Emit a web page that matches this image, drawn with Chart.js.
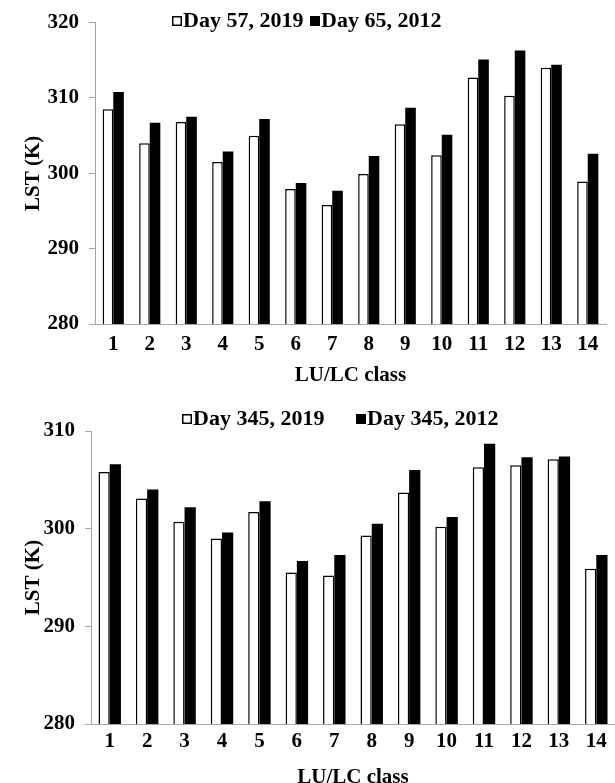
<!DOCTYPE html>
<html>
<head>
<meta charset="utf-8">
<script src="https://cdn.jsdelivr.net/npm/chart.js@4/dist/chart.umd.min.js"></script>
<style>
  html, body { margin: 0; padding: 0; background: #fff; }
  body { width: 615px; height: 783px; overflow: hidden; position: relative; }
  .panel { position: absolute; left: 0; width: 615px; }
  #panelTop { top: 0; height: 392px; }
  #panelBottom { top: 392px; height: 395px; }
</style>
</head>
<body>
<div class="panel" id="panelTop"><canvas id="chartTop"></canvas></div>
<div class="panel" id="panelBottom"><canvas id="chartBottom"></canvas></div>
<script>
// LU/LC classes on the x axis
const classes = ['1', '2', '3', '4', '5', '6', '7', '8', '9', '10', '11', '12', '13', '14'];

// Land surface temperature (K) per class
const lstDay57_2019  = [308.5, 304.0, 306.8, 301.5, 305.0, 297.9, 295.8, 299.9, 306.5, 302.4, 312.7, 310.3, 314.0, 298.9];
const lstDay65_2012  = [310.8, 306.7, 307.5, 302.9, 307.2, 298.7, 297.7, 302.3, 308.7, 305.1, 315.1, 316.3, 314.4, 302.6];
const lstDay345_2019 = [305.8, 303.1, 300.7, 299.0, 301.7, 295.5, 295.2, 299.3, 303.7, 300.2, 306.3, 306.5, 307.1, 295.9];
const lstDay345_2012 = [306.6, 304.0, 302.2, 299.6, 302.8, 296.7, 297.3, 300.5, 306.0, 301.2, 308.7, 307.3, 307.4, 297.3];

// Series names
const namesTop    = ['Day 57, 2019', 'Day 65, 2012'];
const namesBottom = ['Day 345, 2019', 'Day 345, 2012'];

// Y-axis tick values
const yTicksTop    = [280, 290, 300, 310, 320];
const yTicksBottom = [280, 290, 300, 310];

const FONT_FAMILY = "'Times New Roman', 'Liberation Serif', serif";
const AXIS_GRAY = '#a6a6a6';
const tickFont = { family: FONT_FAMILY, size: 21, weight: 'bold' };

// Legend drawn as a single row of square swatches followed by their labels
const inlineLegend = {
  id: 'inlineLegend',
  afterDraw(chart, args, opts) {
    const ctx = chart.ctx;
    ctx.save();
    ctx.font = `bold ${opts.size}px ${FONT_FAMILY}`;
    ctx.textBaseline = 'middle';
    chart.data.datasets.forEach((ds, i) => {
      const x = opts.x[i], y = opts.y, s = opts.box;
      ctx.fillStyle = ds.backgroundColor;
      ctx.fillRect(x, y - s / 2, s, s);
      ctx.lineWidth = 1.5;
      ctx.strokeStyle = '#000';
      ctx.strokeRect(x + 0.75, y - s / 2 + 0.75, s - 1.5, s - 1.5);
      ctx.fillStyle = '#000';
      ctx.fillText(ds.label, x + s + opts.gap, y);
    });
    ctx.restore();
  }
};

function makeChart(canvasId, names, seriesA, seriesB, yTicks, L) {
  return new Chart(document.getElementById(canvasId), {
    type: 'bar',
    data: {
      labels: classes,
      datasets: [
        { label: names[0], data: seriesA, backgroundColor: '#ffffff', borderColor: '#000000',
          borderWidth: 1.5, borderSkipped: false },
        { label: names[1], data: seriesB, backgroundColor: '#000000', borderColor: '#000000',
          borderWidth: 0 }
      ]
    },
    plugins: [inlineLegend],
    options: {
      responsive: true,
      maintainAspectRatio: false,
      animation: false,
      layout: { padding: { top: L.top, right: L.right, left: 0, bottom: 0 } },
      datasets: { bar: { categoryPercentage: L.cat, barPercentage: 1 } },
      scales: {
        x: {
          grid: { display: false },
          border: { display: true, color: AXIS_GRAY, width: 1 },
          ticks: { font: tickFont, color: '#000', padding: L.xPad, maxRotation: 0, autoSkip: false },
          title: { display: true, text: 'LU/LC class', font: tickFont, color: '#000',
                   padding: { top: 0, bottom: L.xTitlePad } },
          afterFit: s => { s.height = L.xH; }
        },
        y: {
          min: yTicks[0],
          max: yTicks[yTicks.length - 1],
          ticks: { stepSize: yTicks[1] - yTicks[0], font: tickFont, color: '#000', padding: 10 },
          grid: { display: true, drawOnChartArea: false, drawTicks: true, tickLength: 6, color: AXIS_GRAY },
          border: { display: true, color: AXIS_GRAY, width: 1 },
          title: { display: true, text: 'LST (K)', font: tickFont, color: '#000',
                   padding: { top: L.yTitlePad, bottom: 0 } },
          afterFit: s => { s.width = L.yW; }
        }
      },
      plugins: {
        legend: { display: false },
        tooltip: { enabled: false },
        inlineLegend: { x: L.legendX, y: L.legendY, box: 10, gap: 1, size: 22 }
      }
    }
  });
}

makeChart('chartTop', namesTop, lstDay57_2019, lstDay65_2012, yTicksTop, {
  top: 21, right: 9, cat: 0.58, xH: 68, xPad: 0, xTitlePad: 4, yW: 95, yTitlePad: 21,
  legendX: [172, 310], legendY: 21
});

makeChart('chartBottom', namesBottom, lstDay345_2019, lstDay345_2012, yTicksBottom, {
  top: 39, right: 0, cat: 0.6, xH: 63, xPad: -3, xTitlePad: -3, yW: 91, yTitlePad: 21,
  legendX: [182, 356], legendY: 27
});
</script>
</body>
</html>
